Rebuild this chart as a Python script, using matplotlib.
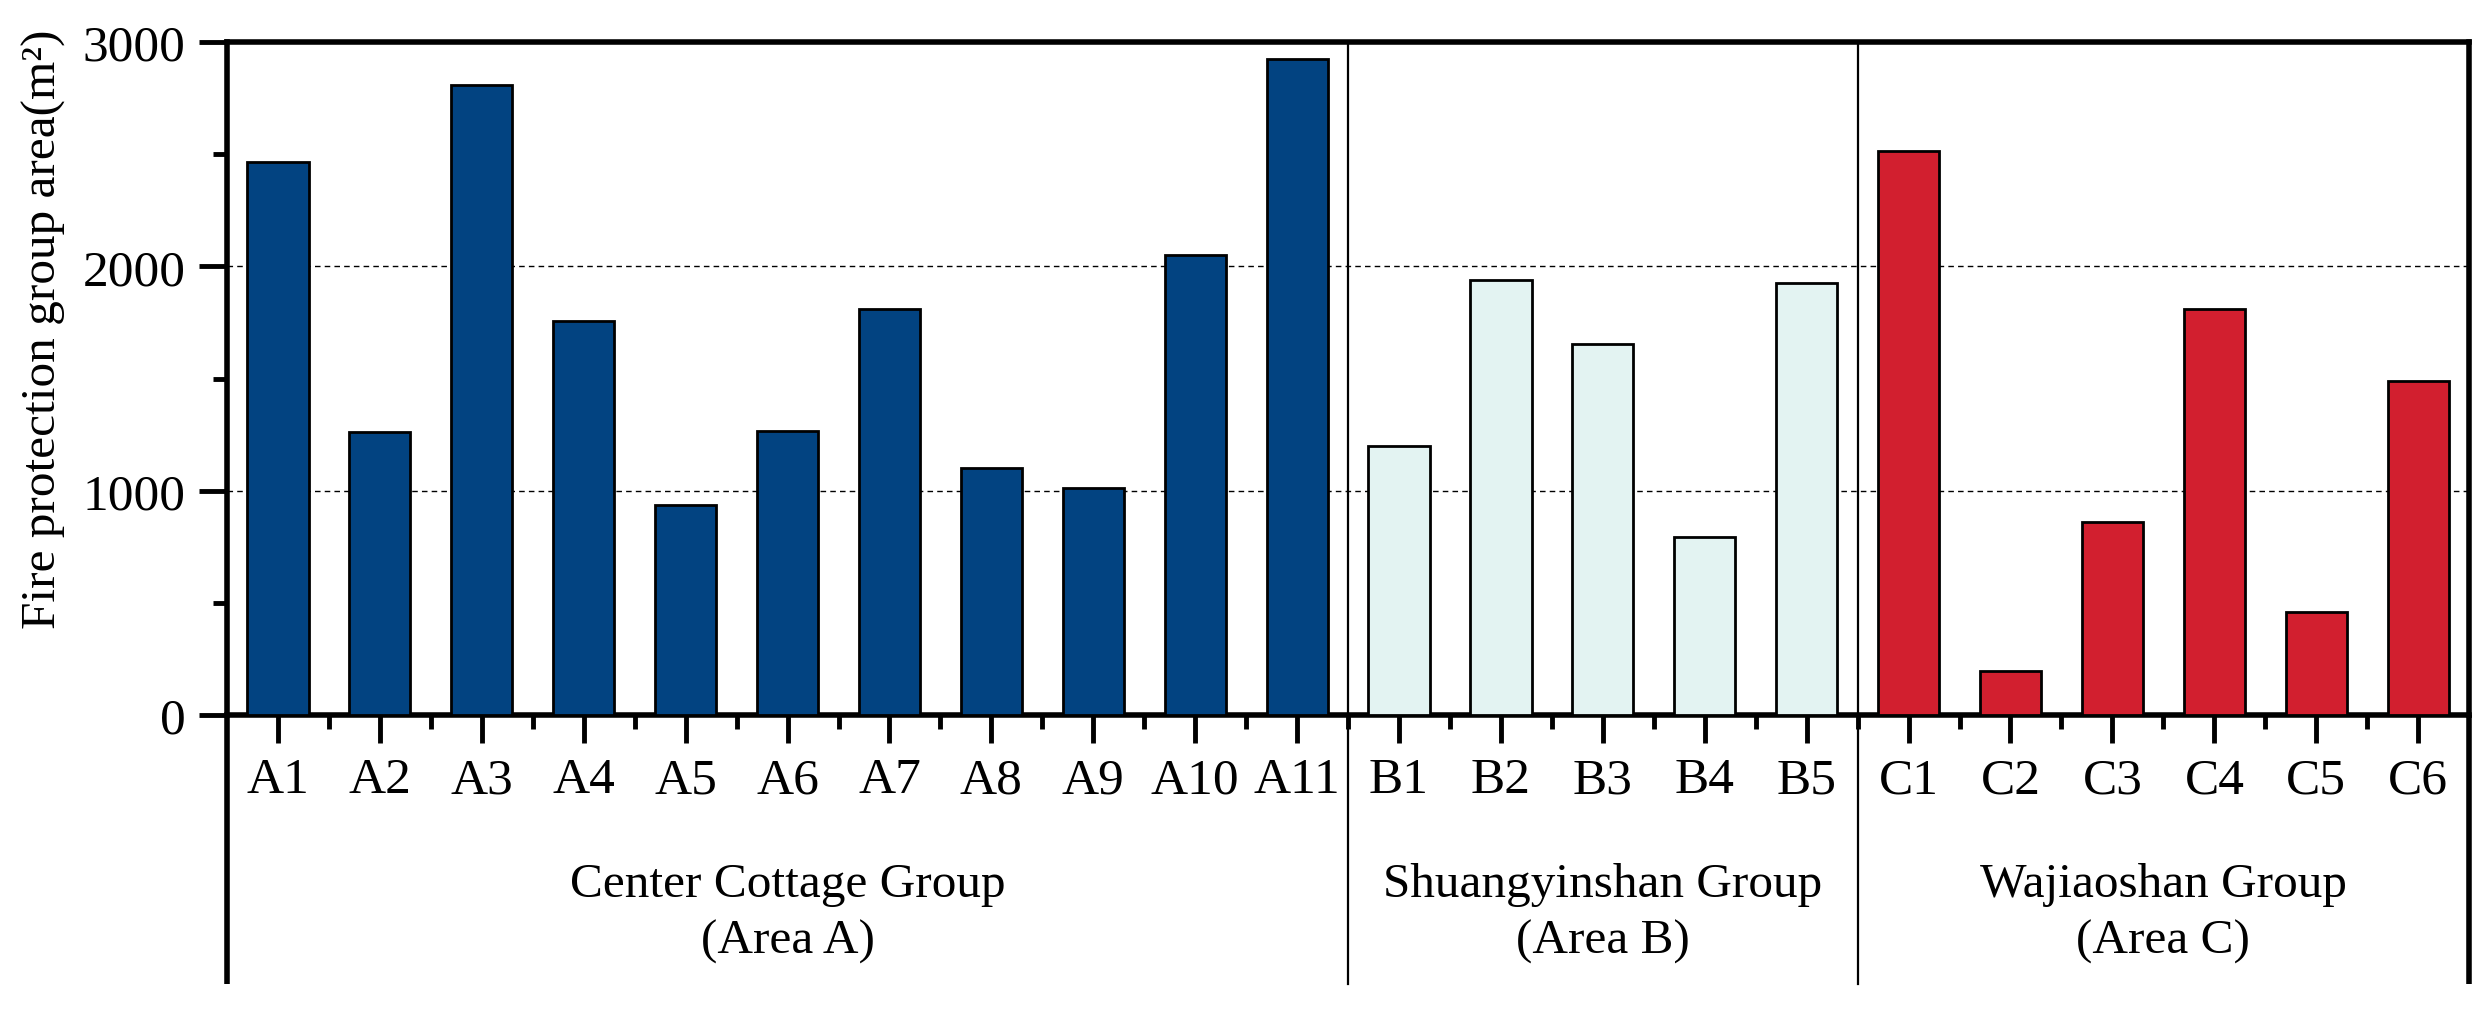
import numpy as np
import matplotlib.pyplot as plt
from matplotlib.ticker import MultipleLocator, FixedLocator

plt.rcParams['font.family'] = ['Liberation Serif', 'DejaVu Serif']

# data
labels_a = ['A1', 'A2', 'A3', 'A4', 'A5', 'A6', 'A7', 'A8', 'A9', 'A10', 'A11']
values_a = [2465, 1262, 2810, 1757, 935, 1268, 1808, 1100, 1010, 2050, 2925]
labels_b = ['B1', 'B2', 'B3', 'B4', 'B5']
values_b = [1198, 1938, 1652, 792, 1925]
labels_c = ['C1', 'C2', 'C3', 'C4', 'C5', 'C6']
values_c = [2515, 195, 862, 1812, 460, 1490]
group_names = ['Center Cottage Group\n(Area A)', 'Shuangyinshan Group\n(Area B)',
               'Wajiaoshan Group\n(Area C)']
group_colors = ['#024381', '#e3f3f2', '#d21f2f']

groups = [(labels_a, values_a), (labels_b, values_b), (labels_c, values_c)]

fig = plt.figure(figsize=(24.84, 10.12), dpi=100)
ax = fig.add_axes([0.0914, 0.2925, 0.9026, 0.665])

fs_tick = 37
fs_text = 35.5
start = 0
all_labels = []
bounds = [-0.5]
for (labs, vals), col in zip(groups, group_colors):
    x = np.arange(start, start + len(labs))
    ax.bar(x, vals, width=0.6, color=col, edgecolor='black', linewidth=2.0, zorder=3)
    all_labels += labs
    start += len(labs)
    bounds.append(start - 0.5)

n = len(all_labels)
ax.set_xlim(-0.5, n - 0.5)
ax.set_ylim(0, 3000)

ax.set_xticks(np.arange(n))
ax.set_xticklabels(all_labels)
ax.xaxis.set_minor_locator(FixedLocator(np.arange(0.5, n - 1, 1)))
ax.yaxis.set_major_locator(MultipleLocator(1000))
ax.yaxis.set_minor_locator(MultipleLocator(500))

ax.tick_params(axis='both', which='major', direction='out', length=20, width=3.5,
               labelsize=fs_tick, pad=10)
ax.tick_params(axis='both', which='minor', direction='out', length=10, width=3.5)

for s in ax.spines.values():
    s.set_linewidth(4)

ax.grid(axis='y', which='major', linestyle=(0, (4, 3)), color='black', linewidth=1.0, zorder=0)

ax.set_ylabel('Fire protection group area(m\u00b2)', fontsize=fs_text)
ax.yaxis.set_label_coords(-0.0718, 0.574)

# group dividers and extended frame lines below the axis
tr = ax.get_xaxis_transform()
bottom = -0.40
for b in bounds[1:-1]:
    ax.plot([b, b], [bottom, 1], transform=tr, color='black', linewidth=1.6,
            clip_on=False, zorder=4)
for b in [bounds[0], bounds[-1]]:
    ax.plot([b, b], [bottom, 0], transform=tr, color='black', linewidth=4,
            clip_on=False, zorder=4, solid_capstyle='butt')

for i, name in enumerate(group_names):
    cx = (bounds[i] + bounds[i + 1]) / 2
    ax.text(cx, -0.293, name, transform=tr, ha='center', va='center',
            fontsize=fs_text, linespacing=1.38)

fig.savefig('out.png', dpi=100)
